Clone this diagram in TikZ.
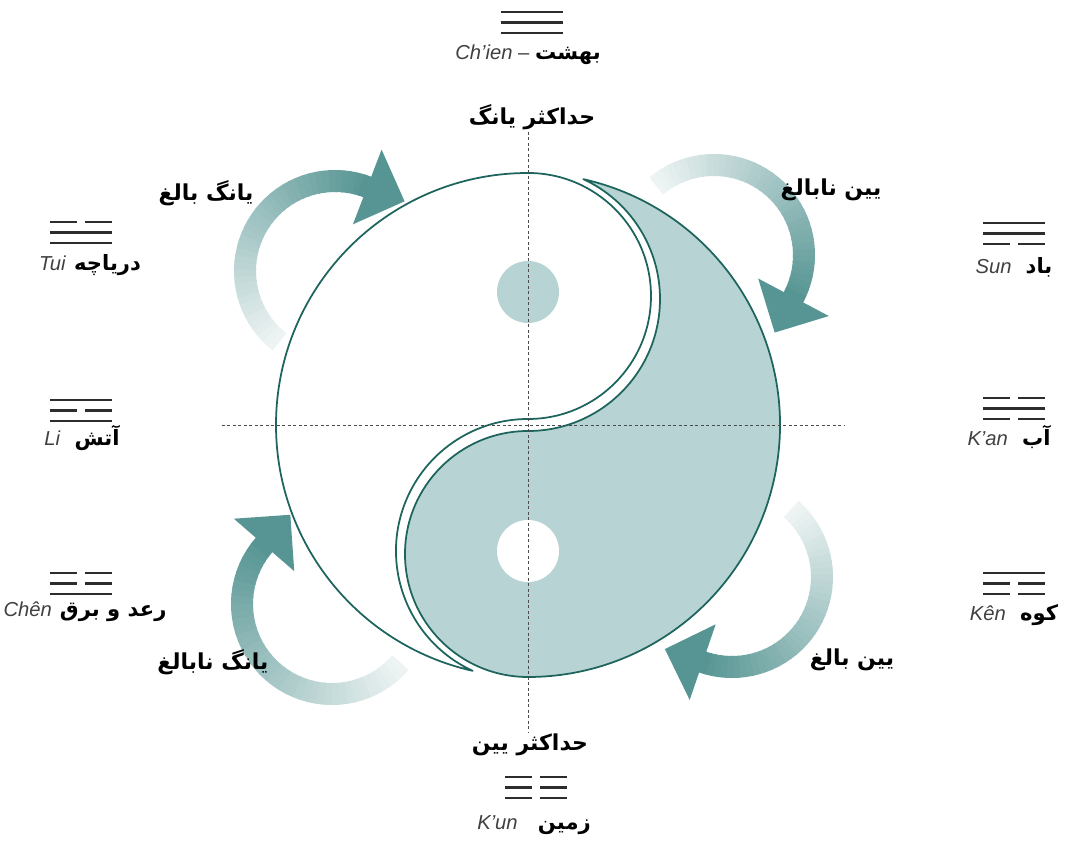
\documentclass[tikz,border=0pt]{standalone}
\usepackage{fontspec}
\setmainfont{Liberation Sans}
\newfontfamily\fafont[Script=Arabic]{DejaVu Sans}
\TeXXeTstate=1
\definecolor{yyline}{RGB}{28,100,92}
\definecolor{yyfill}{RGB}{183,211,211}
\definecolor{arrowdark}{RGB}{86,149,147}
\definecolor{arrowlight}{RGB}{238,244,244}
\definecolor{trigray}{RGB}{45,45,45}
\newcommand\fatext[1]{{\color{black}\fafont\bfseries\fontsize{12}{14}\selectfont\beginR #1\endR}}

\begin{document}
\begin{tikzpicture}[x=0.2mm, y=0.2mm, font=\fontsize{11.5}{13}\selectfont,
  phase/.style={font=\fafont\bfseries\fontsize{12.5}{15}\selectfont, inner sep=1pt},
  trilabel/.style={text=black!75, inner sep=1pt},
  triline/.style={trigray, line width=0.5mm},
  axisline/.style={black!70, line width=0.2mm, dash pattern=on 0.6mm off 0.5mm},
  outline/.style={yyline, line width=0.35mm, line join=round}]

  \useasboundingbox (-528,-416) rectangle (540,425);

  % --- turning arrows (faded tail, solid head) ---
  \foreach \cx/\cy/\sa/\ea in {-193/154/232/69, 186/170/130/-28, 204/-152/49/-109, -196/-179/319.5/139} {
    \begin{scope}[shift={(\cx,\cy)}]
      \pgfmathsetmacro\stp{(\sa-\ea)/40}
      \foreach \i in {0,...,39} {
        \pgfmathsetmacro\a{\sa-\i*\stp}
        \pgfmathtruncatemacro\p{100*\i/39}
        \draw[arrowdark!\p!arrowlight, line width=4.4mm] (\a:90) arc[start angle=\a, end angle=\a-\stp-0.8, radius=90];
      }
      \fill[arrowdark, rotate=\ea] (130,0) -- (50,0) -- (90,-40) -- cycle;
    \end{scope}
  }

  % --- yin-yang ---
  \draw[outline, fill=white] (90:252) arc[start angle=90, end angle=257.32, radius=252]
    arc[start angle=245.23, end angle=90, radius=132]
    arc[start angle=270, end angle=450, radius=123] -- cycle;
  \draw[outline, fill=yyfill] (77.32:252) arc[start angle=77.32, end angle=-90, radius=252]
    arc[start angle=270, end angle=90, radius=123]
    arc[start angle=270, end angle=425.23, radius=132] -- cycle;
  \fill[yyfill] (0,133) circle (31);
  \fill[white] (0,-126) circle (31);

  % axes
  \draw[axisline] (0,293) -- (0,-308);
  \draw[axisline] (-306,0) -- (317,0);

  % --- trigrams (1 = whole line, 0 = broken line) ---
  \foreach \tx/\ty/\ta/\tb/\tc in {3.5/413/1/1/1, -447/203/0/1/1, -447/25/1/0/1, -447/-148/0/0/1,
                                   486/202/1/1/0, 486/27/0/1/0, 486/-148/1/0/0, 8/-352/0/0/0} {
    \foreach \k/\b in {0/\ta, 1/\tb, 2/\tc} {
      \ifnum\b=1
        \draw[triline] (\tx-31,\ty-10.5*\k) -- (\tx+31,\ty-10.5*\k);
      \else
        \draw[triline] (\tx-31,\ty-10.5*\k) -- (\tx-4,\ty-10.5*\k);
        \draw[triline] (\tx+4,\ty-10.5*\k) -- (\tx+31,\ty-10.5*\k);
      \fi
    }
  }

  % trigram names
  \node[trilabel] (chien) at (0,370) {\textit{Ch’ien} – \fatext{بهشت}};
  \node[trilabel] (tui) at (-438,160) {\textit{Tui}\hspace{0.4em}\fatext{دریاچه}};
  \node[trilabel] (li) at (-446,-13) {\textit{Li}\hspace{0.7em}\fatext{آتش}};
  \node[trilabel] (chen) at (-443,-187) {\textit{Chên}\hspace{0.4em}\fatext{رعد و برق}};
  \node[trilabel] (sun) at (486,158) {\textit{Sun}\hspace{0.7em}\fatext{باد}};
  \node[trilabel] (kan) at (481,-12) {\textit{K’an}\hspace{0.7em}\fatext{آب}};
  \node[trilabel] (ken) at (486,-190) {\textit{Kên}\hspace{0.7em}\fatext{کوه}};
  \node[trilabel] (kun) at (6,-400) {\textit{K’un}\hspace{1em}\fatext{زمین}};

  % phases
  \node[phase] (yangmax) at (4,308) {\beginR حداکثر یانگ\endR};
  \node[phase] (yinmax) at (2,-320) {\beginR حداکثر یین\endR};
  \node[phase] (yangold) at (-322,232) {\beginR یانگ بالغ\endR};
  \node[phase] (yinyoung) at (303,235) {\beginR یین نابالغ\endR};
  \node[phase] (yinold) at (324,-235) {\beginR یین بالغ\endR};
  \node[phase] (yangyoung) at (-315,-237) {\beginR یانگ نابالغ\endR};

\end{tikzpicture}
\end{document}
